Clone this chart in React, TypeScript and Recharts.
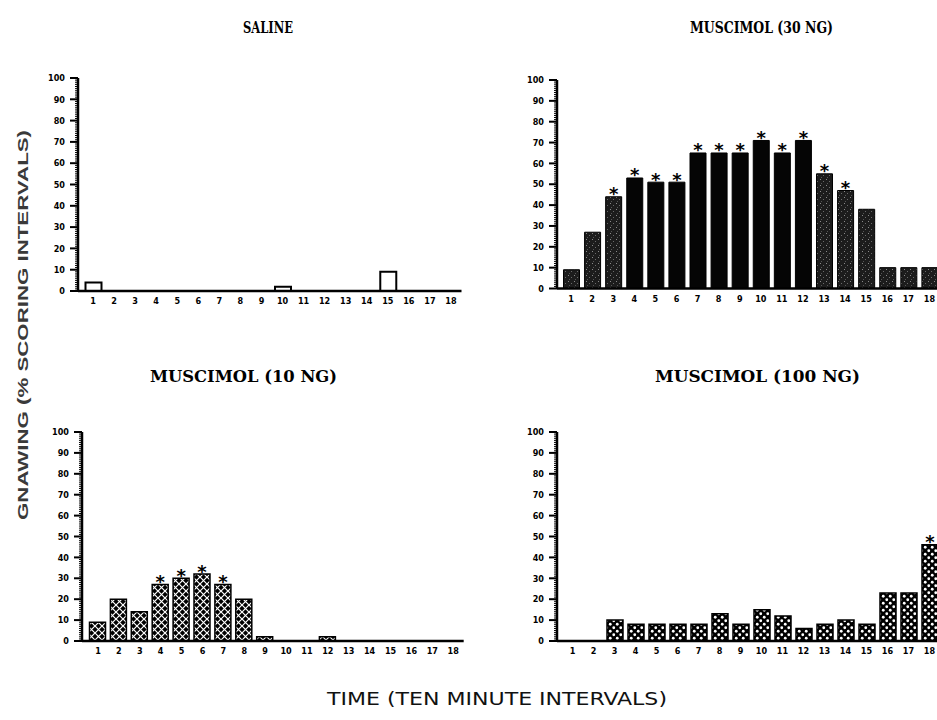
import React from 'react';
import { BarChart, Bar, XAxis, YAxis, LabelList, Cell } from 'recharts';

// ten-minute intervals along the x axis
const intervals = ['1', '2', '3', '4', '5', '6', '7', '8', '9', '10', '11', '12', '13', '14', '15', '16', '17', '18'];

// % scoring intervals
const salineValues = [4, 0, 0, 0, 0, 0, 0, 0, 0, 2, 0, 0, 0, 0, 9, 0, 0, 0];
const muscimol30Values = [9, 27, 44, 53, 51, 51, 65, 65, 65, 71, 65, 71, 55, 47, 38, 10, 10, 10];
const muscimol10Values = [9, 20, 14, 27, 30, 32, 27, 20, 2, 0, 0, 2, 0, 0, 0, 0, 0, 0];
const muscimol100Values = [0, 0, 10, 8, 8, 8, 8, 13, 8, 15, 12, 6, 8, 10, 8, 23, 23, 46];

// intervals marked with an asterisk
const salineStars: number[] = [];
const muscimol30Stars = [3, 4, 5, 6, 7, 8, 9, 10, 11, 12, 13, 14];
const muscimol10Stars = [4, 5, 6, 7];
const muscimol100Stars = [18];

// y axis: labelled every 10, minor tick every 1
const yTickLabels = [0, 10, 20, 30, 40, 50, 60, 70, 80, 90, 100];
const yTicks = Array.from({ length: 101 }, (_, i) => i);

// styling: solid black bars in the 30 ng panel
const SOLID_30 = [4, 5, 6, 7, 8, 9, 10, 11, 12];

const TICK_FONT = '"DejaVu Sans Condensed", "DejaVu Sans", sans-serif';
const Y_AXIS_W = 50;

function buildData(values: number[], stars: number[]) {
  return intervals.map((t, i) => ({ t, v: values[i], star: stars.includes(i + 1) ? '*' : '' }));
}

function YTick(props: any) {
  const { y, payload } = props;
  const v = payload.value as number;
  const major = yTickLabels.includes(v);
  const ax = Y_AXIS_W;
  return (
    <g>
      <line x1={ax - (major ? 8 : 3)} x2={ax} y1={y} y2={y} stroke="#000" strokeWidth={major ? 2 : 1} />
      {major && (
        <text x={ax - 13} y={y} dy={3.2} textAnchor="end" fontSize={9} fontWeight={700} fontFamily={TICK_FONT} fill="#000">
          {v}
        </text>
      )}
    </g>
  );
}

function StarLabel(props: any) {
  const { x, y, width, value } = props;
  if (!value) return null;
  return (
    <text x={x + width / 2} y={y + 3.5} textAnchor="middle" fontSize={18} fontWeight={700} fontFamily="DejaVu Sans, sans-serif" fill="#000">
      {value}
    </text>
  );
}

interface PanelProps {
  values: number[];
  stars: number[];
  axisX: number;
  plotTop: number;
  plotBottom: number;
  bandStart: number;
  bandEnd: number;
  fill: string | ((i: number) => string);
  stroke: string;
  strokeWidth: number;
}

function Panel({ values, stars, axisX, plotTop, plotBottom, bandStart, bandEnd, fill, stroke, strokeWidth }: PanelProps) {
  const mt = 16;
  const xh = 22;
  const left = axisX - Y_AXIS_W;
  const width = bandEnd - left;
  const height = mt + (plotBottom - plotTop) + xh;
  const data = buildData(values, stars);
  return (
    <div style={{ position: 'absolute', left, top: plotTop - mt }}>
      <BarChart width={width} height={height} data={data} margin={{ top: mt, right: 0, left: 0, bottom: 0 }} barSize={16}>
        <XAxis
          dataKey="t"
          interval={0}
          tickLine={false}
          axisLine={{ stroke: '#000', strokeWidth: 2.5 }}
          padding={{ left: bandStart - axisX, right: 0 }}
          height={xh}
          tickMargin={1}
          tick={{ fontSize: 9, fontWeight: 700, fill: '#000', fontFamily: TICK_FONT }}
        />
        <YAxis
          domain={[0, 100]}
          ticks={yTicks}
          interval={0}
          width={Y_AXIS_W}
          tickLine={false}
          axisLine={{ stroke: '#000', strokeWidth: 2.5 }}
          tick={(p: any) => <YTick {...p} />}
        />
        <Bar dataKey="v" isAnimationActive={false} stroke={stroke} strokeWidth={strokeWidth} fill={typeof fill === 'string' ? fill : '#000'}>
          {typeof fill !== 'string' && data.map((_, i) => <Cell key={i} fill={fill(i + 1)} />)}
          <LabelList dataKey="star" content={(p: any) => <StarLabel {...p} />} />
        </Bar>
      </BarChart>
    </div>
  );
}

export default function App() {
  return (
    <div style={{ position: 'absolute', left: 0, top: 0, width: 937, height: 720, overflow: 'hidden', background: '#fff' }}>
      <svg width={937} height={720} style={{ position: 'absolute', left: 0, top: 0 }}>
        <defs>
          <pattern id="stipple" width="6" height="6" patternUnits="userSpaceOnUse">
            <rect width="6" height="6" fill="#1c1c1c" />
            <rect x="1" y="1" width="1" height="1" fill="#8a8a8a" />
            <rect x="4" y="3" width="1" height="1" fill="#6a6a6a" />
            <rect x="2" y="5" width="1" height="1" fill="#555" />
          </pattern>
          <pattern id="lattice" width="7" height="7" patternUnits="userSpaceOnUse">
            <rect width="7" height="7" fill="#000" />
            <path d="M0,0 L7,7 M7,0 L0,7" stroke="#fff" strokeWidth="1.2" />
          </pattern>
          <pattern id="dots" width="7" height="7" patternUnits="userSpaceOnUse">
            <rect width="7" height="7" fill="#000" />
            <circle cx="1.75" cy="1.75" r="1.4" fill="#fff" />
            <circle cx="5.25" cy="5.25" r="1.4" fill="#fff" />
          </pattern>
        </defs>
        <g fontFamily='"DejaVu Serif", serif' fontWeight={700} fill="#000">
          <text x={243} y={33} fontSize={16} textLength={50} lengthAdjust="spacingAndGlyphs">SALINE</text>
          <text x={690} y={33} fontSize={16} textLength={143} lengthAdjust="spacingAndGlyphs">MUSCIMOL (30 NG)</text>
          <text x={150} y={382} fontSize={16} textLength={187} lengthAdjust="spacingAndGlyphs">MUSCIMOL (10 NG)</text>
          <text x={655} y={382} fontSize={16} textLength={205} lengthAdjust="spacingAndGlyphs">MUSCIMOL (100 NG)</text>
        </g>
        <text
          transform="translate(28, 520) rotate(-90)"
          x={0}
          y={0}
          fontSize={15}
          fontWeight={700}
          fontFamily='"Liberation Sans", Arial, sans-serif'
          fill="#3a3a3a"
          textLength={390}
          lengthAdjust="spacingAndGlyphs"
        >
          GNAWING (% SCORING INTERVALS)
        </text>
        <text
          x={327}
          y={705}
          fontSize={17}
          fontFamily='"DejaVu Sans Condensed", "DejaVu Sans", sans-serif'
          fill="#111"
          textLength={340}
          lengthAdjust="spacingAndGlyphs"
        >
          TIME (TEN MINUTE INTERVALS)
        </text>
      </svg>

      <Panel values={salineValues} stars={salineStars} axisX={78} plotTop={78} plotBottom={291} bandStart={82.5} bandEnd={461.5} fill="#fff" stroke="#000" strokeWidth={2} />
      <Panel
        values={muscimol30Values}
        stars={muscimol30Stars}
        axisX={557}
        plotTop={80}
        plotBottom={288.5}
        bandStart={560.5}
        bandEnd={940}
        fill={(n) => (SOLID_30.includes(n) ? '#050505' : 'url(#stipple)')}
        stroke="#000"
        strokeWidth={1}
      />
      <Panel values={muscimol10Values} stars={muscimol10Stars} axisX={82} plotTop={432} plotBottom={641} bandStart={87.5} bandEnd={463.7} fill="url(#lattice)" stroke="#000" strokeWidth={1.5} />
      <Panel values={muscimol100Values} stars={muscimol100Stars} axisX={557} plotTop={432} plotBottom={641} bandStart={562} bandEnd={940} fill="url(#dots)" stroke="#000" strokeWidth={1.5} />
    </div>
  );
}
